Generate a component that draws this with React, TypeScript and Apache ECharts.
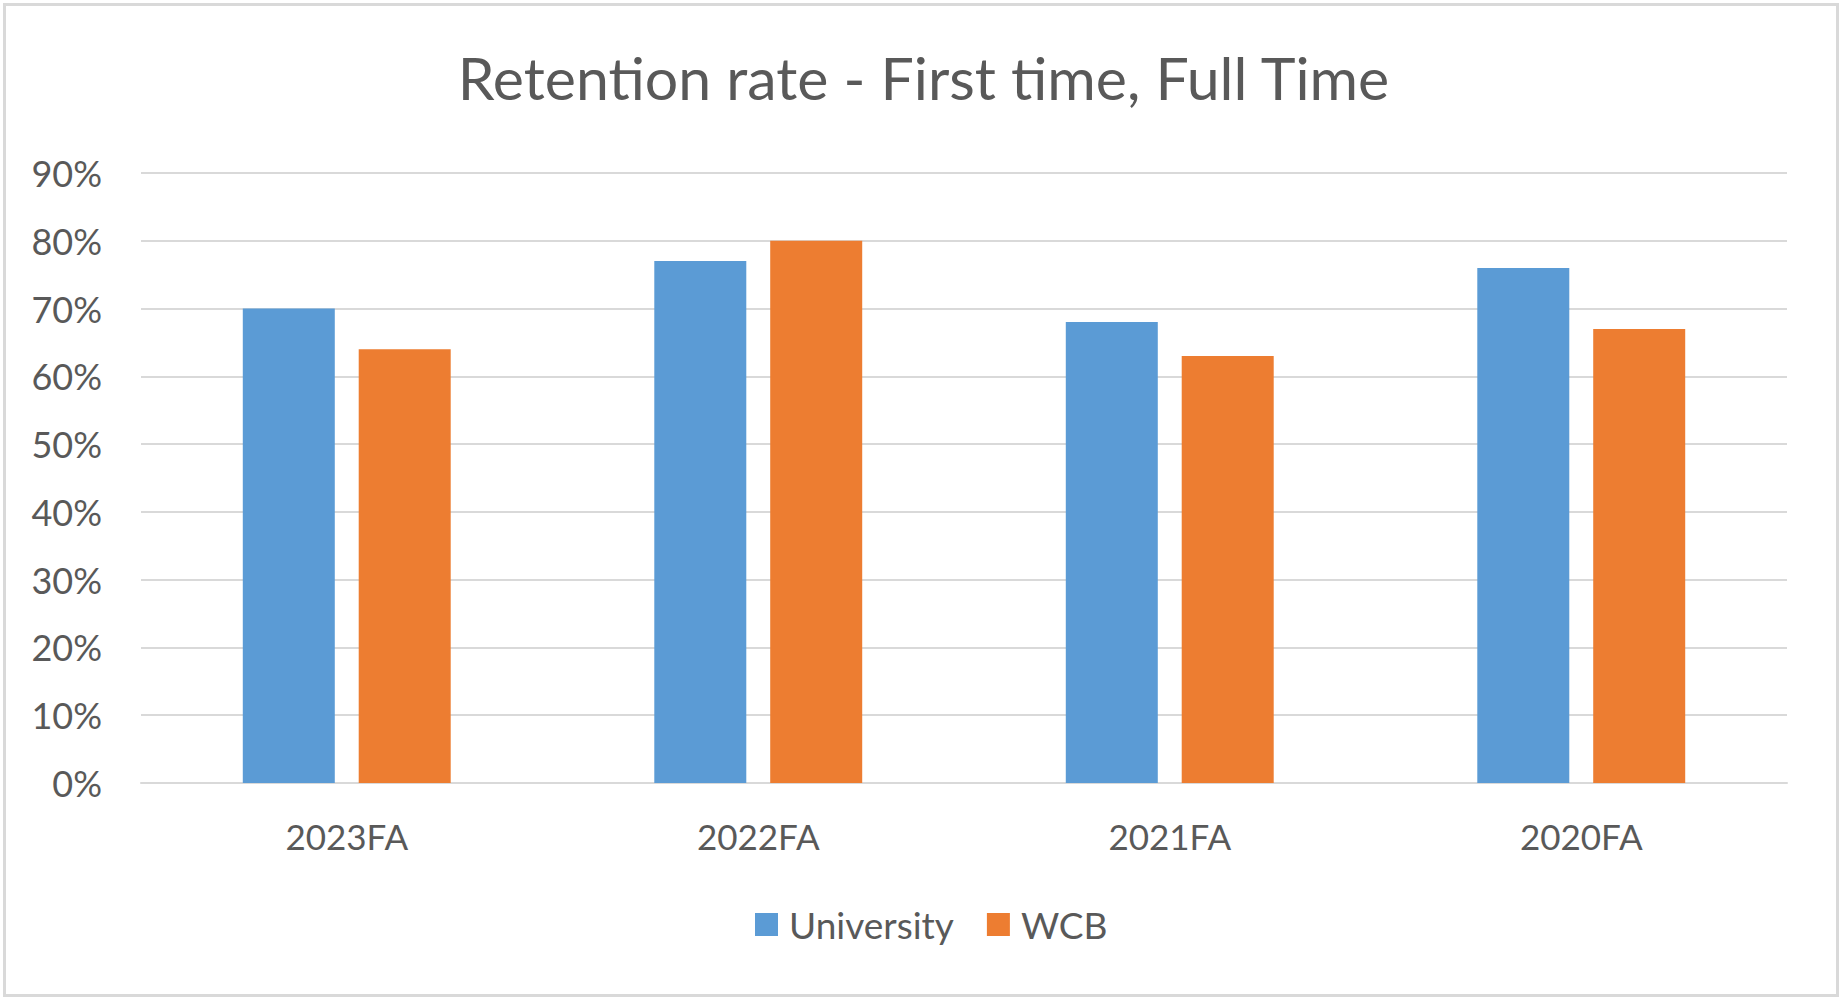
import React, { useEffect, useRef } from "react";
import * as echarts from "echarts";

const categories = ["2023FA", "2022FA", "2021FA", "2020FA"];
const universityValues = [70, 77, 68, 76];
const wcbValues = [64, 80, 63, 67];
const seriesNames = ["University", "WCB"];
const titleText = "Retention rate - First time, Full Time";

const FONT = "Lato, 'Open Sans', sans-serif";
const TEXT = "#595959";
const GRID = "#d9d9d9";

export default function App() {
  const ref = useRef<HTMLDivElement>(null);
  useEffect(() => {
    document.body.style.margin = "0";
    const chart = echarts.init(ref.current!, null, { renderer: "svg" });
    chart.setOption({
      animation: false,
      backgroundColor: "#ffffff",
      title: {
        text: titleText,
        left: "center",
        top: 43,
        textStyle: { fontFamily: FONT, fontSize: 59, fontWeight: "normal", color: TEXT },
      },
      graphic: [
        {
          type: "rect",
          shape: { x: 4.5, y: 4.5, width: 1833, height: 991 },
          style: { fill: "none", stroke: GRID, lineWidth: 3 },
          silent: true,
        },
      ],
      grid: { left: 141, right: 60, top: 173, bottom: 220, containLabel: false },
      legend: {
        bottom: 55,
        left: 750,
        icon: "rect",
        itemWidth: 23,
        itemHeight: 23,
        itemGap: 33,
        data: seriesNames,
        textStyle: { fontFamily: FONT, fontSize: 37, color: TEXT, padding: [0, 0, 0, 6] },
      },
      xAxis: {
        type: "category",
        data: categories,
        axisLine: { show: true, lineStyle: { color: GRID, width: 2 } },
        axisTick: { show: false },
        axisLabel: { fontFamily: FONT, fontSize: 35, color: TEXT, margin: 35 },
      },
      yAxis: {
        type: "value",
        min: 0,
        max: 90,
        interval: 10,
        axisLine: { show: false },
        axisTick: { show: false },
        splitLine: { lineStyle: { color: GRID, width: 2 } },
        axisLabel: {
          fontFamily: FONT,
          fontSize: 36,
          color: TEXT,
          margin: 39,
          formatter: (v: number) => `${v}%`,
        },
      },
      series: [
        {
          name: seriesNames[0],
          type: "bar",
          data: universityValues,
          barWidth: 92,
          barGap: "26%",
          itemStyle: { color: "#5B9BD5" },
        },
        {
          name: seriesNames[1],
          type: "bar",
          data: wcbValues,
          barWidth: 92,
          barGap: "26%",
          itemStyle: { color: "#ED7D31" },
        },
      ],
    });
    return () => chart.dispose();
  }, []);
  return (
    <div
      ref={ref}
      style={{ position: "fixed", left: 0, top: 0, width: 1847, height: 1003 }}
    />
  );
}
